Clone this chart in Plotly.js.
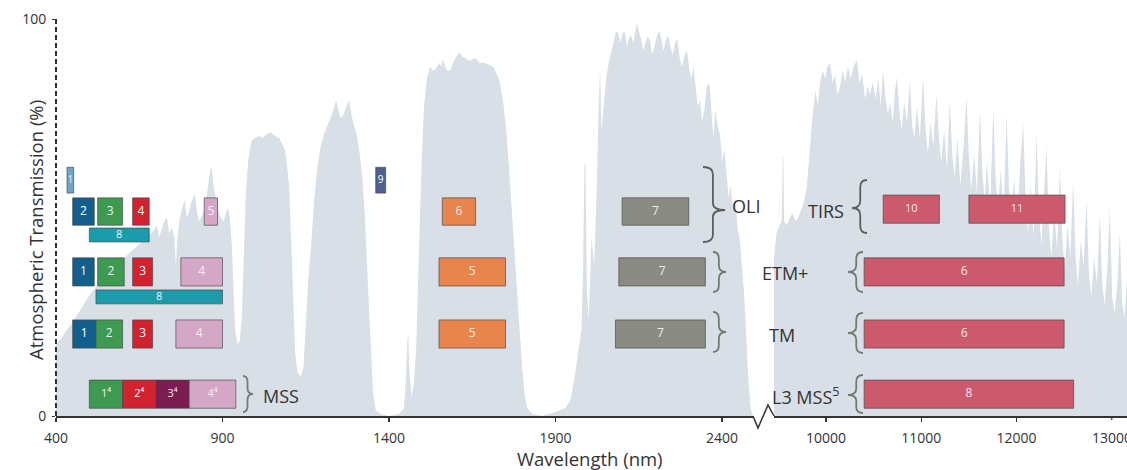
<!DOCTYPE html>
<html><head><meta charset="utf-8">
<script src="https://cdn.plot.ly/plotly-3.0.1.min.js"></script>
<style>html,body{margin:0;padding:0;background:#fff}#chart{width:1127px;height:470px}</style>
</head><body><div id="chart"></div>
<script>
// ---------- DATA ----------
// Atmospheric transmission, visible / NIR / SWIR (nm, %)
const visWavelength = [400,410,420,430,445,460,475,490,505,520,540,560,580,600,620,640,660,680,695,703,710,718,725,733,740,748,755,760,764,770,778,787,792,798,805,812,817,822,830,838,845,852,858,863,868,873,880,887,895,903,910,916,922,928,933,938,945,952,958,963,970,978,988,998,1010,1022,1032,1045,1058,1070,1080,1088,1095,1100,1106,1112,1118,1125,1135,1143,1150,1158,1166,1175,1185,1195,1205,1215,1225,1233,1241,1248,1256,1264,1272,1280,1287,1295,1303,1312,1320,1328,1336,1344,1352,1360,1375,1400,1430,1445,1451,1455,1458,1461,1467,1475,1482,1490,1497,1505,1514,1523,1532,1541,1550,1557,1562,1568,1575,1583,1590,1598,1606,1613,1620,1630,1643,1652,1662,1672,1685,1700,1712,1722,1733,1743,1752,1760,1768,1775,1783,1792,1800,1808,1815,1830,1860,1900,1930,1945,1958,1970,1978,1983,1987,1990,1994,2000,2008,2016,2024,2030,2034,2038,2044,2052,2060,2068,2076,2082,2088,2095,2102,2108,2114,2120,2127,2133,2140,2145,2150,2157,2164,2170,2177,2184,2190,2197,2205,2212,2218,2224,2231,2238,2245,2252,2259,2266,2273,2280,2288,2295,2302,2308,2314,2320,2327,2334,2340,2347,2354,2362,2368,2374,2380,2387,2394,2400,2407,2414,2420,2426,2433,2440,2447,2454,2460,2467,2474,2480,2486,2493];
const visTransmission = [18,19,20,21.5,23,25,27,29,31,32.5,34.5,36,38,39.5,41,42.5,44,45.5,47,48,45,47,49,50,46,47.5,45,38,44,49,52,54.5,50,51,53.5,55,56,52,49,50.5,52,55,59,62,62.5,58,55,52,50,49,51,52.5,50,43,32,22,18,19,25,40,56,65,69.5,70,70.5,70,71,71.5,70.5,70,68.5,67,62,58,45,28,16,11,10,12,22,35,43,54,63,68,71,73,75,77,79.5,77,75,76,78,79.5,76,73,71,66,60,50,34,18,6,1.5,0.5,0,0.5,2,10,19,21,12,5,8,18,42,62,78,85,88,87,87.5,89,88,90,88,87,87,88.5,90,91,91.5,90.5,90,89.5,90,90,89,89,88.5,88,86.5,84,79,72,63,52,44,33,22,12,5,2,0.5,0,1,2,4,10,17,22,38,63,64,32,24,45,38,58,80,87,72,78,85,89,92,95,97,96.5,94,96.5,97,93,95,96,94,97,99,97,95,92,94,95.5,94.5,91,93,96,97,95,92,94.5,96,93,91,94,95,90,88,91,92,87,85,88,83,78,79.5,74,77,83,84,76,70,77,73,71,64,67,60,55,58,52,55,47,44,38,30,18,8,2,0];

// Atmospheric transmission, thermal infrared (nm, %)
const tirWavelength = [9454,9480,9510,9535,9545,9552,9560,9590,9620,9650,9680,9710,9740,9770,9800,9830,9860,9890,9915,9937,9965,9990,10015,10042,10070,10095,10120,10147,10175,10200,10230,10260,10290,10325,10350,10380,10410,10440,10462,10490,10520,10550,10575,10598,10625,10650,10672,10700,10725,10745,10770,10795,10820,10850,10881,10905,10930,10955,10985,11020,11045,11070,11095,11125,11160,11185,11210,11240,11270,11300,11325,11350,11380,11410,11445,11475,11500,11525,11555,11585,11615,11640,11665,11690,11725,11755,11780,11805,11835,11865,11895,11920,11945,11975,12005,12040,12070,12095,12120,12150,12180,12210,12235,12260,12290,12315,12340,12365,12395,12425,12455,12480,12505,12535,12565,12595,12620,12645,12675,12705,12735,12760,12785,12815,12845,12875,12900,12925,12955,12980,13005,13030,13060,13085,13110,13135,13160];
const tirTransmission = [40,46,48,49,64,66,49,48,50,51,49,50,52,54,58,68,76,82,78,84,87,85,88,89,84,86,81,83,87,84,88,85,88,89.7,84,86,80,83,81,84,80,85,78,87,80,76,79,74,82,85.4,77,72,79,74,84.6,73,70,78,70,85.4,72,66,74,68,81,70,64,72,62,79.6,66,60,70,58,68,80.4,65,57,66,56,77,62,54,64,52,77.8,60,52,62,50,76,58,49,60,48,64,73.8,55,46,58,45,71,52,43,56,67.8,48,40,52,42,62.7,45,37,48,40,59.5,40,33,44,38,54.4,36,30,40,33,51,33,28,38,52.6,30,26,34,46,28,25,35];

// Landsat bands (labels, start nm, end nm)
const oliLabels = ['2','3','4','5','6','7'];
const oliStart  = [450,525,630,845,1560,2100];
const oliEnd    = [515,600,680,885,1660,2300];
const oliTopLabels = ['1','9'];
const oliTopStart  = [433,1360];
const oliTopEnd    = [453,1390];
const oliPanLabels = ['8'];
const oliPanStart  = [500];
const oliPanEnd    = [680];
const tirsLabels = ['10','11'];
const tirsStart  = [10600,11500];
const tirsEnd    = [11190,12510];
const etmLabels = ['1','2','3','4','5','7'];
const etmStart  = [450,525,630,775,1550,2090];
const etmEnd    = [515,605,690,900,1750,2350];
const etmTirLabels = ['6'];
const etmTirStart  = [10400];
const etmTirEnd    = [12500];
const etmPanLabels = ['8'];
const etmPanStart  = [520];
const etmPanEnd    = [900];
const tmLabels = ['1','2','3','4','5','7'];
const tmStart  = [450,520,630,760,1550,2080];
const tmEnd    = [520,600,690,900,1750,2350];
const tmTirLabels = ['6'];
const tmTirStart  = [10400];
const tmTirEnd    = [12500];
const mssLabels = ['1⁴','2⁴','3⁴','4⁴'];
const mssStart  = [500,600,700,800];
const mssEnd    = [600,700,800,940];
const l3TirLabels = ['8'];
const l3TirStart  = [10400];
const l3TirEnd    = [12600];

const xTicksVis = [400,900,1400,1900,2400];
const xTicksTir = [10000,11000,12000];
const xTickEdge = 13000;
const yTicks = [0,100];

// ---------- STYLE / LAYOUT ----------
const C = {
  blue:'#125f8e', green:'#3d9a50', red:'#d2212f', pink:'#d5a7c6', teal:'#1c9bab',
  coastal:'#6da5cb', cirrus:'#4c6190', orange:'#e8854d', grey:'#8a8b83',
  thermal:'#cb5a6d', maroon:'#7c1d51', area:'#d8dfe6'
};
const TXT = {blue:'#ffffff', green:'#f2f2f2', red:'#ffffff', pink:'#f6eaf1', teal:'#f2f2f2',
  coastal:'#e8f0f6', cirrus:'#ffffff', orange:'#fbe6d8', grey:'#eeeeea', thermal:'#fbe3e6', maroon:'#f2e6ee'};
const rows = { // centre, thickness in % units
  oliTop:[59.4,6.5], oli:[51.5,6.9], oliPan:[45.6,3.5], etm:[36.3,7.1],
  etmPan:[30.0,3.5], tm:[20.65,7.1], mss:[5.5,7.1], tirs:[52.1,7.1]
};
const FONT = 'Open Sans, Liberation Sans, sans-serif';

const traces = [
  {type:'scatter', mode:'lines', x:visWavelength, y:visTransmission, xaxis:'x', yaxis:'y',
   fill:'tozeroy', fillcolor:C.area, line:{width:0, color:C.area}, hoverinfo:'skip', showlegend:false},
  {type:'scatter', mode:'lines', x:tirWavelength, y:tirTransmission, xaxis:'x2', yaxis:'y',
   fill:'tozeroy', fillcolor:C.area, line:{width:0, color:C.area}, hoverinfo:'skip', showlegend:false}
];
const textTraces = [];

function bands(labels, start, end, row, colorKeys, xa, size) {
  const [c, th] = rows[row];
  const y0 = c - th / 2, y1 = c + th / 2;
  labels.forEach((lb, i) => {
    const col = C[colorKeys[i]];
    traces.push({type:'scatter', mode:'lines', xaxis:xa, yaxis:'y',
      x:[start[i], end[i], end[i], start[i], start[i]], y:[y0, y0, y1, y1, y0],
      fill:'toself', fillcolor:col, line:{color:'rgba(70,70,70,0.65)', width:1},
      hoverinfo:'skip', showlegend:false});
  });
  textTraces.push({type:'scatter', mode:'text', xaxis:xa, yaxis:'y',
    x:labels.map((_, i) => (start[i] + end[i]) / 2), y:labels.map(() => c), text:labels,
    textposition:'middle center',
    textfont:{family:FONT, size:size || 12, color:colorKeys.map(k => TXT[k])},
    hoverinfo:'skip', showlegend:false});
}
const vis6 = ['blue','green','red','pink','orange','grey'];
bands(oliLabels, oliStart, oliEnd, 'oli', vis6, 'x');
bands(oliTopLabels, oliTopStart, oliTopEnd, 'oliTop', ['coastal','cirrus'], 'x', 10);
bands(oliPanLabels, oliPanStart, oliPanEnd, 'oliPan', ['teal'], 'x', 11);
bands(tirsLabels, tirsStart, tirsEnd, 'tirs', ['thermal','thermal'], 'x2', 11);
bands(etmLabels, etmStart, etmEnd, 'etm', vis6, 'x');
bands(etmTirLabels, etmTirStart, etmTirEnd, 'etm', ['thermal'], 'x2');
bands(etmPanLabels, etmPanStart, etmPanEnd, 'etmPan', ['teal'], 'x', 11);
bands(tmLabels, tmStart, tmEnd, 'tm', vis6, 'x');
bands(tmTirLabels, tmTirStart, tmTirEnd, 'tm', ['thermal'], 'x2');
bands(mssLabels, mssStart, mssEnd, 'mss', ['green','red','maroon','pink'], 'x', 11);
bands(l3TirLabels, l3TirStart, l3TirEnd, 'mss', ['thermal'], 'x2');
traces.push(...textTraces);

// pixel -> paper helpers for decorations
const L = 56, T = 19, PW = 1071, PH = 397;
const px = x => (x - L) / PW;
const py = y => (T + PH - y) / PH;
const P = (x, y) => px(x).toFixed(5) + ',' + py(y).toFixed(5);

function bracePath(xOpen, xTip, yTop, yBot, yMid) {
  const xs = xOpen + (xTip - xOpen) * 0.45;
  const r1 = Math.min(7, (yMid - yTop) / 3), r2 = Math.min(7, (yBot - yMid) / 3);
  return 'M' + P(xOpen, yTop) + ' Q' + P(xs, yTop) + ' ' + P(xs, yTop + r1) +
    ' L' + P(xs, yMid - r1) + ' Q' + P(xs, yMid) + ' ' + P(xTip, yMid) +
    ' Q' + P(xs, yMid) + ' ' + P(xs, yMid + r2) + ' L' + P(xs, yBot - r2) +
    ' Q' + P(xs, yBot) + ' ' + P(xOpen, yBot);
}
const brace = (xo, xt, yt, yb, ym, col) => ({type:'path', xref:'paper', yref:'paper',
  path:bracePath(xo, xt, yt, yb, ym), line:{color:col, width:1.8}});

const shapes = [
  {type:'line', xref:'paper', yref:'paper', x0:0, x1:0, y0:0, y1:1,
   line:{color:'#333', width:2, dash:'5px,3px'}},
  {type:'path', xref:'paper', yref:'paper',
   path:'M' + P(753,416) + ' L' + P(758,428) + ' L' + P(768,405) + ' L' + P(774,416),
   line:{color:'#333', width:1.5}},
  // tick mark for the edge tick at 13000
  {type:'line', xref:'x2', yref:'paper', x0:xTickEdge, x1:xTickEdge, y0:py(416), y1:py(420),
   line:{color:'#333', width:1.2}},
  brace(703, 725, 167, 242, 210, '#5e5e5e'),
  brace(713, 726, 252, 292, 272, '#6f7d70'),
  brace(713, 726, 312, 352, 332, '#6f7d70'),
  brace(243, 253, 376, 412, 394, '#7a7a7a'),
  brace(867, 852, 180, 233, 208, '#5e5e5e'),
  brace(863, 848, 252, 292, 272, '#6f7d70'),
  brace(863, 848, 313, 353, 333, '#6f7d70'),
  brace(863, 848, 375, 413, 395, '#6f7d70')
];

const lab = (t, x, y, size, extra) => Object.assign({text:t, xref:'paper', yref:'paper',
  x:px(x), y:py(y), showarrow:false, xanchor:'center', yanchor:'middle',
  font:{family:FONT, size:size || 18, color:'#333'}}, extra || {});

const annotations = [
  lab('OLI', 746, 206),
  lab('TIRS', 826, 211),
  lab('ETM+', 785, 273),
  lab('TM', 782, 335),
  lab('L3 MSS<sup>5</sup>', 806, 396),
  lab('MSS', 281, 396),
  lab('Wavelength (nm)', 590, 458, 18.5),
  lab('Atmospheric Transmission (%)', 35, 230, 18.5, {textangle:-90}),
  // last thermal tick label sits on the window edge (as in the original)
  {text:String(xTickEdge), xref:'x2', yref:'paper', x:xTickEdge, y:py(437), showarrow:false,
   xanchor:'center', yanchor:'middle', font:{family:FONT, size:14, color:'#333'}}
];

const axisCommon = {showline:true, linecolor:'#333', linewidth:1.5, ticks:'outside', ticklen:4,
  tickcolor:'#333', tickwidth:1.2, showgrid:false, zeroline:false, fixedrange:true,
  tickfont:{family:FONT, size:14, color:'#333'}, ticklabelstandoff:5};

const layout = {
  width:1127, height:470, margin:{l:56, r:0, t:19, b:54},
  paper_bgcolor:'#fff', plot_bgcolor:'#fff',
  showlegend:false, font:{family:FONT},
  xaxis:Object.assign({}, axisCommon, {domain:[0, px(753)], range:[400, 2493],
    tickmode:'array', tickvals:xTicksVis, ticktext:xTicksVis.map(String), anchor:'y'}),
  xaxis2:Object.assign({}, axisCommon, {domain:[px(774), 1], range:[9454, 13160],
    tickmode:'array', tickvals:xTicksTir, ticktext:xTicksTir.map(String), anchor:'y'}),
  yaxis:{range:[0,100], tickmode:'array', tickvals:yTicks, ticktext:yTicks.map(String),
    showline:false, zeroline:false, showgrid:false, ticks:'outside', ticklen:3, tickcolor:'#333',
    tickfont:{family:FONT, size:14, color:'#333'}, fixedrange:true, ticklabelstandoff:3},
  shapes:shapes, annotations:annotations
};

Plotly.newPlot('chart', traces, layout, {displayModeBar:false, staticPlot:true});
</script>
</body></html>
